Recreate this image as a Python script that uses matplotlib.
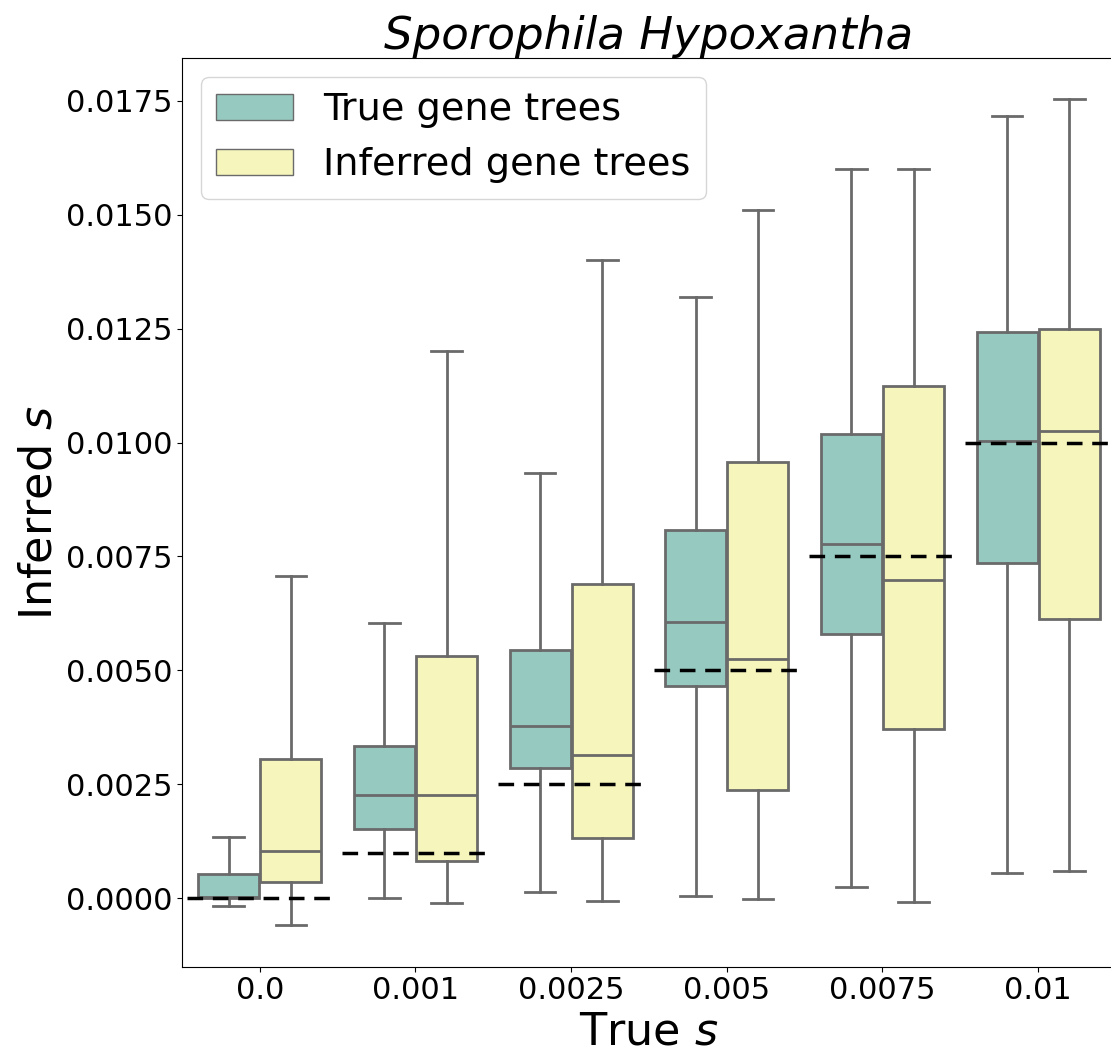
import numpy as np
import matplotlib.pyplot as plt
from matplotlib.patches import Patch

# true selection coefficient per group, and tick labels
true_s = [0.0, 0.001, 0.0025, 0.005, 0.0075, 0.01]
tick_labels = ["0.0", "0.001", "0.0025", "0.005", "0.0075", "0.01"]

# box stats: true gene trees
true_whislo = [-0.00016, 0.00001, 0.00014, 0.00005, 0.00026, 0.00056]
true_q1 = [0.0, 0.00152, 0.00286, 0.00466, 0.00580, 0.00735]
true_med = [0.00002, 0.00227, 0.00378, 0.00606, 0.00777, 0.01003]
true_q3 = [0.00054, 0.00335, 0.00544, 0.00808, 0.01018, 0.01243]
true_whishi = [0.00135, 0.00604, 0.00934, 0.01320, 0.01601, 0.01717]

# inferred gene trees
inf_whislo = [-0.00059, -0.00011, -0.00005, -0.00001, -0.00008, 0.00059]
inf_q1 = [0.00035, 0.00081, 0.00132, 0.00238, 0.00371, 0.00612]
inf_med = [0.00104, 0.00227, 0.00314, 0.00526, 0.00699, 0.01025]
inf_q3 = [0.00305, 0.00531, 0.00690, 0.00957, 0.01125, 0.01249]
inf_whishi = [0.00708, 0.01201, 0.01401, 0.01510, 0.01601, 0.01753]

series = ["True gene trees", "Inferred gene trees"]
colors = ["#96cac1", "#f5f5bc"]
gray = "#6a6a6a"


def make_stats(lo, q1, med, q3, hi):
    return [dict(whislo=a, q1=b, med=c, q3=d, whishi=e, fliers=[])
            for a, b, c, d, e in zip(lo, q1, med, q3, hi)]


fig = plt.figure(figsize=(11.11, 10.53), dpi=100)
ax = fig.add_axes([0.1638, 0.0821, 0.8407, 0.8628])

x = np.arange(len(true_s))
width = 0.392
groups = [
    make_stats(true_whislo, true_q1, true_med, true_q3, true_whishi),
    make_stats(inf_whislo, inf_q1, inf_med, inf_q3, inf_whishi),
]
offsets = [-0.2, 0.2]
line = dict(color=gray, linewidth=2)
for stats, off, col in zip(groups, offsets, colors):
    ax.bxp(stats, positions=x + off, widths=width, patch_artist=True,
           showfliers=False, manage_ticks=False,
           boxprops=dict(facecolor=col, edgecolor=gray, linewidth=2),
           medianprops=line, whiskerprops=line, capprops=line)

# dashed line at the true value of s
for xi, s in zip(x, true_s):
    ax.plot([xi - 0.47, xi + 0.47], [s, s], color="black", lw=2.5,
            dashes=(4.5, 2.8), zorder=5)

ax.set_xlim(-0.5, 5.5)
ax.set_xticks(x)
ax.set_xticklabels(tick_labels)
ax.set_yticks(np.arange(0, 0.0176, 0.0025))
ax.set_yticklabels([f"{v:.4f}" for v in np.arange(0, 0.0176, 0.0025)])
ax.tick_params(labelsize=22)

ax.set_xlabel("True $s$", fontsize=32)
ax.set_ylabel("Inferred $s$", fontsize=32)
ax.set_title("Sporophila Hypoxantha", fontsize=32.5, style="italic")

handles = [Patch(facecolor=c, edgecolor=gray, linewidth=1) for c in colors]
ax.legend(handles, series, loc="upper left", fontsize=27.5)

fig.savefig("out.png", dpi=100)
